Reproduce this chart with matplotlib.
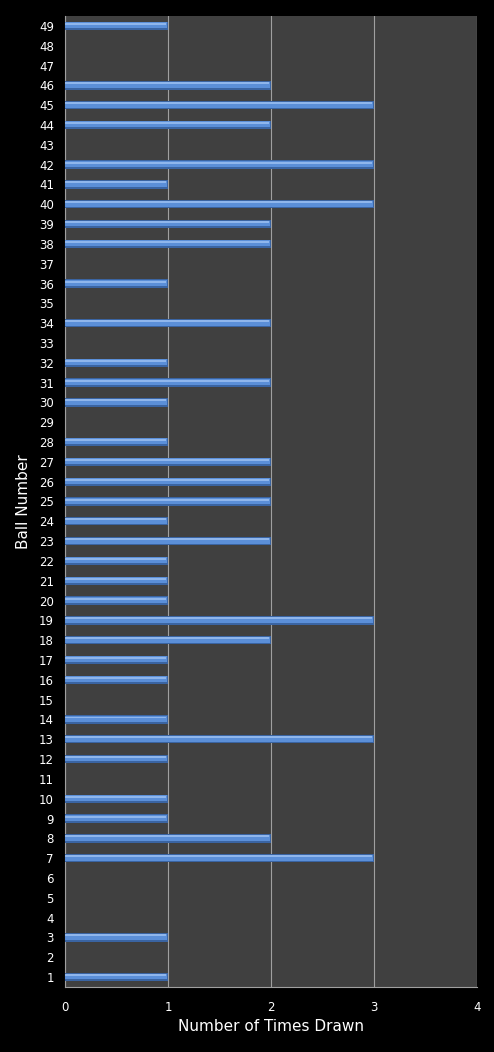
import numpy as np
import matplotlib.pyplot as plt

balls = list(range(1, 50))
times_drawn = [1, 0, 1, 0, 0, 0, 3, 2, 1, 1,
               0, 1, 3, 1, 0, 1, 1, 2, 3, 1,
               1, 1, 2, 1, 2, 2, 2, 1, 0, 1,
               2, 1, 0, 2, 0, 1, 0, 2, 2, 3,
               1, 3, 0, 2, 3, 2, 0, 0, 1]

fig = plt.figure(figsize=(4.94, 10.52), dpi=100)
fig.patch.set_facecolor('black')
ax = fig.add_axes([65/494, 1-987/1052, (477-65)/494, (987-16)/1052])
ax.set_facecolor('#404040')

y = np.array(balls)
x = np.array(times_drawn)
# bevelled look: dark base bar with lighter bands on top
ax.barh(y, x, height=0.42, color='#3a64a2', zorder=3)
ax.barh(y + 0.03, x - 0.012 * (x > 0), height=0.3, color='#5b8fd8', zorder=4)
ax.barh(y + 0.1, x - 0.02 * (x > 0), height=0.1, color='#8fb6ec', zorder=5)

ax.set_xlim(0, 4)
ax.set_ylim(0.5, 49.5)
ax.set_xticks([0, 1, 2, 3, 4])
ax.set_yticks(balls)
ax.grid(axis='x', color='#a0a0a0', linewidth=0.8, zorder=1)
ax.set_axisbelow(True)

for s in ['top', 'right']:
    ax.spines[s].set_visible(False)
for s in ['left', 'bottom']:
    ax.spines[s].set_color('#a0a0a0')

ax.tick_params(colors='white', labelsize=8.5, length=0, pad=8)
ax.tick_params(axis='x', pad=10)
ax.set_xlabel('Number of Times Drawn', color='white', fontsize=11, labelpad=4)
ax.set_ylabel('Ball Number', color='white', fontsize=11, labelpad=6)

fig.savefig('out.png', dpi=100, facecolor='black')
